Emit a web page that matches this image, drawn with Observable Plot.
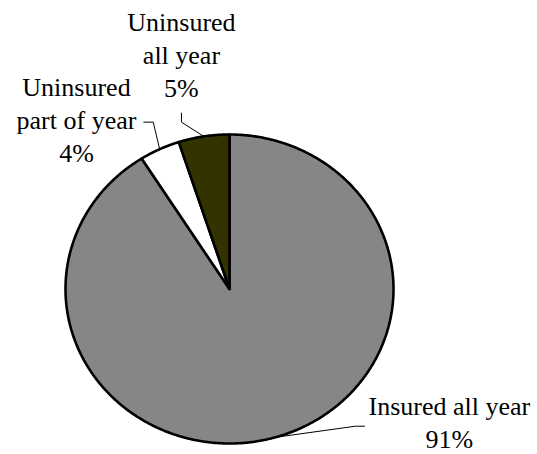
<!DOCTYPE html>
<html>
<head>
<meta charset="utf-8">
<script src="https://cdn.jsdelivr.net/npm/d3@7"></script>
<script src="https://cdn.jsdelivr.net/npm/@observablehq/plot@0.6"></script>
</head>
<body style="margin:0">
<div id="chart"></div>
<script>
// ---- data ----
const categories = ["Insured all year", "Uninsured part of year", "Uninsured all year"];
const shares = [91, 4, 5];
const labelLines = [["Insured all year", "91%"], ["Uninsured", "part of year", "4%"], ["Uninsured", "all year", "5%"]];

// ---- layout (unit-circle space) ----
const colors = ["#868686", "#ffffff", "#333300"];
const labelPos = [[1.341, -0.867], [-0.933, 1.091], [-0.293, 1.512]];
const leaderStart = [[0.823, -0.888], [-0.523, 1.080], [-0.293, 1.138]];
const leaderElbow = [[0.768, -0.888], [-0.465, 1.080], [-0.293, 1.080]];
const lineStep = 33; // px between label lines

const table = categories.map((c, i) => ({name: c, value: shares[i]}));
const arcs = d3.pie().sort(null).value(d => d.value).startAngle(0).endAngle(2 * Math.PI)(table);

// slice polygons: angle measured clockwise from 12 o'clock
const slicePts = [];
arcs.forEach(a => {
  const name = a.data.name;
  slicePts.push({name, x: 0, y: 0});
  const n = Math.max(2, Math.ceil((a.endAngle - a.startAngle) / (Math.PI / 360)));
  for (let k = 0; k <= n; k++) {
    const t = a.startAngle + (a.endAngle - a.startAngle) * k / n;
    slicePts.push({name, x: Math.sin(t), y: Math.cos(t)});
  }
  slicePts.push({name, x: 0, y: 0});
});

const leaderPts = [];
arcs.forEach((a, i) => {
  const mid = (a.startAngle + a.endAngle) / 2;
  const name = a.data.name;
  leaderPts.push({name, x: leaderStart[i][0], y: leaderStart[i][1]});
  leaderPts.push({name, x: leaderElbow[i][0], y: leaderElbow[i][1]});
  leaderPts.push({name, x: Math.sin(mid), y: Math.cos(mid)});
});

// one row per label line, with its vertical offset from the label centre
const lineRows = [];
categories.forEach((c, i) => {
  const lines = labelLines[i];
  lines.forEach((t, k) => {
    lineRows.push({name: c, t, x: labelPos[i][0], y: labelPos[i][1], off: (k - (lines.length - 1) / 2) * lineStep});
  });
});
const textMarks = d3.groups(lineRows, d => d.off).map(([off, rows]) =>
  Plot.text(rows, {x: "x", y: "y", text: "t", dy: off, fontSize: 26, fontFamily: "Times New Roman", textAnchor: "middle"})
);

const chart = Plot.plot({
  width: 537,
  height: 454,
  marginLeft: 65,
  marginRight: 144,
  marginTop: 134,
  marginBottom: 11,
  x: {domain: [-1, 1], axis: null},
  y: {domain: [-1, 1], axis: null},
  color: {domain: categories, range: colors},
  marks: [
    Plot.line(slicePts, {x: "x", y: "y", z: "name", fill: "name", stroke: "#000", strokeWidth: 2.6, strokeLinejoin: "round", curve: "linear"}),
    Plot.line(leaderPts, {x: "x", y: "y", z: "name", stroke: "#000", strokeWidth: 1}),
    ...textMarks
  ]
});
chart.setAttribute("font-family", "Liberation Serif");
chart.querySelectorAll("text").forEach(t => {
  t.setAttribute("font-family", "Liberation Serif");
  t.style.fontFamily = "'Liberation Serif'";
});
document.getElementById("chart").appendChild(chart);
</script>
</body>
</html>
